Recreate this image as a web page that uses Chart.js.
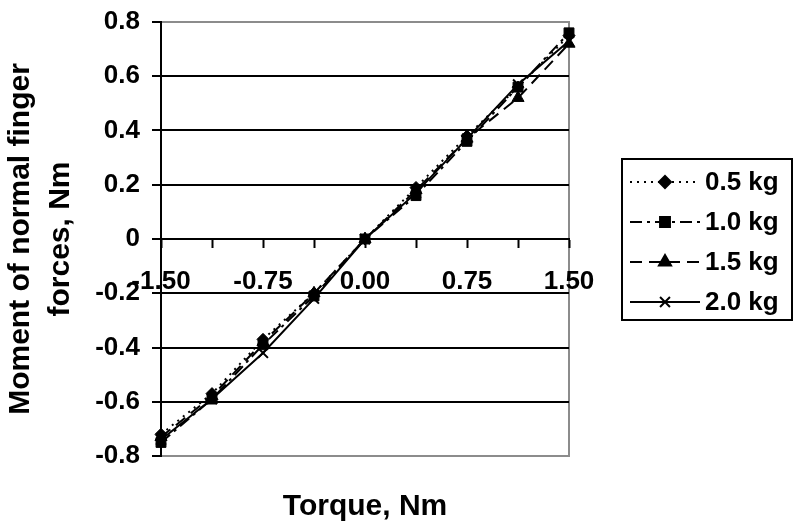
<!DOCTYPE html>
<html>
<head>
<meta charset="utf-8">
<script src="https://cdn.jsdelivr.net/npm/chart.js@4/dist/chart.umd.min.js"></script>
<style>
html,body{margin:0;padding:0;background:#fff;}
#wrap{width:800px;height:532px;}
</style>
</head>
<body>
<div id="wrap"><canvas id="c" width="800" height="532"></canvas></div>
<script>
// ---- data ----
const torque = [-1.5, -1.125, -0.75, -0.375, 0, 0.375, 0.75, 1.125, 1.5];
const seriesNames = ['0.5 kg', '1.0 kg', '1.5 kg', '2.0 kg'];
const kg05 = [-0.72, -0.57, -0.37, -0.20, 0, 0.19, 0.38, 0.56, 0.75];
const kg10 = [-0.75, -0.59, -0.39, -0.21, 0, 0.16, 0.36, 0.56, 0.76];
const kg15 = [-0.73, -0.58, -0.38, -0.20, 0, 0.18, 0.37, 0.52, 0.72];
const kg20 = [-0.74, -0.59, -0.42, -0.22, 0, 0.17, 0.37, 0.57, 0.73];
const xTickValues = [-1.5, -1.125, -0.75, -0.375, 0, 0.375, 0.75, 1.125, 1.5];
const xTickLabels = ['-1.50', '', '-0.75', '', '0.00', '', '0.75', '', '1.50'];
const yTickValues = [-0.8, -0.6, -0.4, -0.2, 0, 0.2, 0.4, 0.6, 0.8];
const yTickLabels = ['-0.8', '-0.6', '-0.4', '-0.2', '0', '0.2', '0.4', '0.6', '0.8'];
const xTitle = 'Torque, Nm';
const yTitle = ['Moment of normal finger', 'forces, Nm'];

const FONT = '"Liberation Sans", Arial, Helvetica, sans-serif';

const styles = [
  {dash: [2, 5], pointStyle: 'rectRot', radius: 6},
  {dash: [12, 5, 3, 5], pointStyle: 'rect', radius: 7},
  {dash: [12, 7], pointStyle: 'triangle', radius: 7},
  {dash: [], pointStyle: 'crossRot', radius: 7}
];
const values = [kg05, kg10, kg15, kg20];

const datasets = values.map((vals, i) => ({
  label: seriesNames[i],
  data: torque.map((t, j) => ({x: t, y: vals[j]})),
  borderColor: '#000',
  backgroundColor: '#000',
  borderWidth: 2,
  borderDash: styles[i].dash,
  pointStyle: styles[i].pointStyle,
  pointRadius: styles[i].radius,
  pointBorderWidth: i === 3 ? 2 : 1,
  pointBackgroundColor: '#000',
  pointBorderColor: '#000',
  tension: 0,
  clip: false
}));

const framePlugin = {
  id: 'frame',
  beforeDraw(chart) {
    const {ctx, chartArea: a} = chart;
    ctx.save();
    ctx.strokeStyle = '#8c8c8c';
    ctx.lineWidth = 2;
    ctx.strokeRect(a.left, a.top, a.right - a.left, a.bottom - a.top);
    ctx.restore();
  }
};

const legendPlugin = {
  id: 'boxLegend',
  afterDraw(chart) {
    const ctx = chart.ctx;
    const bx = 622, by = 159, bw = 170, bh = 161;
    ctx.save();
    ctx.strokeStyle = '#000';
    ctx.lineWidth = 2;
    ctx.strokeRect(bx, by, bw, bh);
    ctx.font = 'bold 26px ' + FONT;
    ctx.textBaseline = 'middle';
    ctx.fillStyle = '#000';
    chart.data.datasets.forEach((ds, i) => {
      const y = by + 23 + i * 40;
      ctx.save();
      ctx.strokeStyle = '#000';
      ctx.lineWidth = 2;
      ctx.setLineDash(ds.borderDash || []);
      ctx.beginPath();
      ctx.moveTo(630, y);
      ctx.lineTo(700, y);
      ctx.stroke();
      ctx.restore();
      ctx.setLineDash([]);
      ctx.fillStyle = '#000';
      ctx.strokeStyle = '#000';
      Chart.helpers.drawPoint(ctx, {
        pointStyle: ds.pointStyle,
        radius: ds.pointRadius,
        borderWidth: ds.pointBorderWidth,
        rotation: 0
      }, 665, y);
      ctx.fillStyle = '#000';
      ctx.fillText(ds.label, 705, y + 1);
    });
    ctx.restore();
  }
};

new Chart(document.getElementById('c'), {
  type: 'line',
  data: {datasets},
  options: {
    responsive: false,
    animation: false,
    layout: {padding: {left: 0, right: 231, top: 22, bottom: 0}},
    plugins: {
      legend: {display: false},
      tooltip: {enabled: false},
      title: {
        display: true,
        position: 'bottom',
        fullSize: false,
        text: xTitle,
        color: '#000',
        font: {family: FONT, size: 30, weight: 'bold', lineHeight: 1.2},
        padding: {top: 33, bottom: 7}
      }
    },
    scales: {
      x: {
        type: 'linear',
        position: {y: 0},
        min: -1.5,
        max: 1.5,
        afterBuildTicks(scale) {
          scale.ticks = xTickValues.map(v => ({value: v}));
        },
        ticks: {
          autoSkip: false,
          maxRotation: 0,
          color: '#000',
          padding: 19,
          font: {family: FONT, size: 26, weight: 'bold'},
          callback(v, idx) { return xTickLabels[idx]; }
        },
        grid: {
          drawOnChartArea: false,
          drawTicks: true,
          tickLength: 8,
          tickColor: '#000',
          tickWidth: 2
        },
        border: {display: true, color: '#000', width: 2}
      },
      y: {
        type: 'linear',
        position: 'left',
        min: -0.8,
        max: 0.8,
        afterBuildTicks(scale) {
          scale.ticks = yTickValues.map(v => ({value: v}));
        },
        afterFit(scale) {
          scale.width = 161;
          scale.paddingTop = 0;
          scale.paddingBottom = 0;
        },
        ticks: {
          color: '#000',
          padding: 12,
          font: {family: FONT, size: 26, weight: 'bold'},
          callback(v, idx) { return yTickLabels[idx]; }
        },
        grid: {
          color(ctx) {
            const v = ctx.tick ? ctx.tick.value : 0;
            return Math.abs(Math.abs(v) - 0.8) < 1e-6 ? '#8c8c8c' : '#000';
          },
          lineWidth: 2,
          tickLength: 9,
          tickColor: '#000',
          tickWidth: 2
        },
        border: {display: true, color: '#000', width: 2},
        title: {
          display: true,
          text: yTitle,
          color: '#000',
          font: {family: FONT, size: 30, weight: 'bold', lineHeight: 1.33},
          padding: {top: 1, bottom: 0}
        }
      }
    }
  },
  plugins: [framePlugin, legendPlugin]
});
</script>
</body>
</html>
